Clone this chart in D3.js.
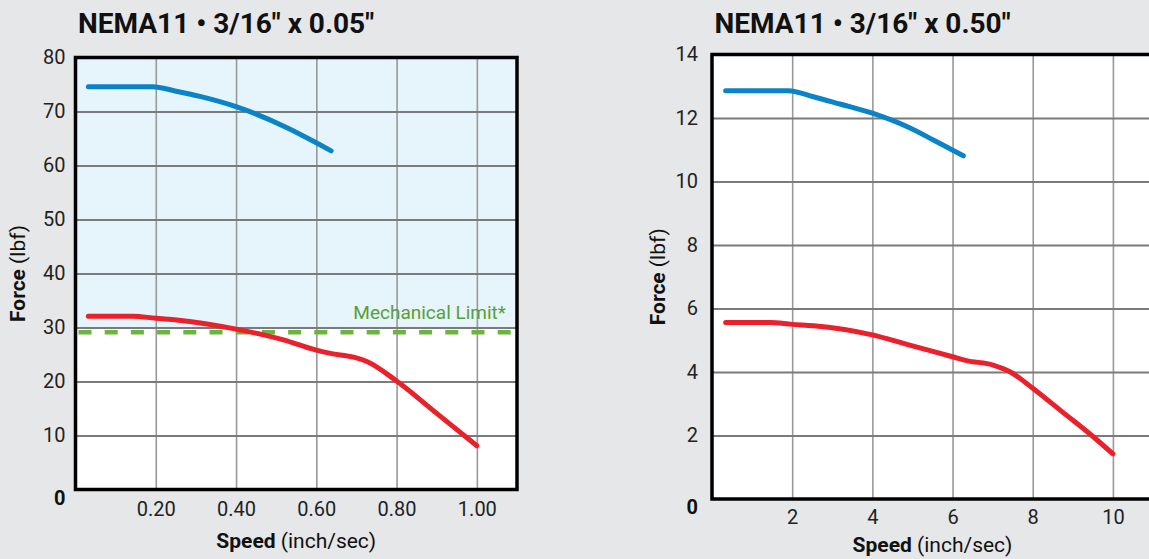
<!DOCTYPE html>
<html><head><meta charset="utf-8">
<script src="https://cdn.jsdelivr.net/npm/d3@7"></script>
<style>
html,body{margin:0;padding:0;background:#e6e7e8;}
svg{display:block;font-family:Roboto,"Noto Sans",sans-serif;}
</style></head>
<body>
<svg id="c" width="1149" height="559"></svg>
<script>
// ---------- DATA ----------
const leftTitle = 'NEMA11 \u2022 3/16" x 0.05"';
const rightTitle = 'NEMA11 \u2022 3/16" x 0.50"';
const xAxisLabelBold = "Speed";
const xAxisLabelUnit = " (inch/sec)";
const yAxisLabelBold = "Force";
const yAxisLabelUnit = " (lbf)";
const limitLabel = "Mechanical Limit*";

const leftXTicks = [0.2, 0.4, 0.6, 0.8, 1.0];
const leftYTicks = [10, 20, 30, 40, 50, 60, 70, 80];
const rightXTicks = [2, 4, 6, 8, 10];
const rightYTicks = [2, 4, 6, 8, 10, 12, 14];

const leftBlueSpeed = [0.032, 0.193, 0.248, 0.31, 0.40, 0.527, 0.60, 0.637];
const leftBlueForce = [74.6, 74.6, 73.8, 72.8, 70.9, 67.0, 64.2, 62.7];
const leftRedSpeed = [0.032, 0.144, 0.2, 0.252, 0.40, 0.518, 0.60, 0.635, 0.693, 0.726, 0.80, 0.90, 1.0];
const leftRedForce = [32.1, 32.1, 31.7, 31.4, 29.7, 27.7, 25.8, 25.2, 24.5, 23.7, 20.1, 14.1, 8.1];
const leftLimit = 29.1;
const leftShade = [30, 80];

const rightBlueSpeed = [0.34, 1.9, 2.53, 3.19, 4.0, 4.86, 5.52, 6.27];
const rightBlueForce = [12.86, 12.86, 12.67, 12.44, 12.15, 11.73, 11.31, 10.81];
const rightRedSpeed = [0.34, 1.45, 2.0, 2.53, 4.0, 4.86, 6.0, 6.35, 7.01, 7.43, 8.0, 8.76, 9.51, 10.0];
const rightRedForce = [5.56, 5.56, 5.50, 5.46, 5.17, 4.87, 4.48, 4.36, 4.22, 4.01, 3.49, 2.72, 1.96, 1.42];

// ---------- DRAW ----------
const svg = d3.select("#c");
svg.append("rect").attr("width", 1149).attr("height", 559).attr("fill", "#e6e7e8");

const BLUE = "#0a84c6", RED = "#e8212b", GREEN = "#6cb43f", GREENTXT = "#5a9f35";

function drawChart(o) {
  const x = d3.scaleLinear().domain(o.xDomain).range([o.left, o.right]);
  const y = d3.scaleLinear().domain(o.yDomain).range([o.bottom, o.top]);
  const g = svg.append("g");

  g.append("rect").attr("x", o.left).attr("y", o.top)
    .attr("width", o.right - o.left).attr("height", o.bottom - o.top).attr("fill", "#fff");
  if (o.shade) {
    g.append("rect").attr("x", o.left).attr("y", y(o.shade[1]))
      .attr("width", o.right - o.left).attr("height", y(o.shade[0]) - y(o.shade[1]))
      .attr("fill", "#e6f4fb");
  }
  // grid
  const gx = g.append("g").attr("transform", `translate(0,${o.bottom})`)
    .call(d3.axisBottom(x).tickValues(o.xTicks).tickSize(-(o.bottom - o.top)).tickFormat(""));
  gx.select(".domain").remove();
  gx.selectAll("line").attr("stroke", "#999").attr("stroke-width", 1.6);
  const gy = g.append("g").attr("transform", `translate(${o.left},0)`)
    .call(d3.axisLeft(y).tickValues(o.yTicks).tickSize(-(o.right - o.left)).tickFormat(""));
  gy.select(".domain").remove();
  gy.selectAll("line").attr("stroke", "#7b7b7b").attr("stroke-width", 1.8);

  if (o.limit != null) {
    g.append("line").attr("x1", o.left + 3).attr("x2", o.right)
      .attr("y1", y(o.limit)).attr("y2", y(o.limit))
      .attr("stroke", GREEN).attr("stroke-width", 4.5).attr("stroke-dasharray", "13,13.2");
    g.append("text").attr("x", o.right - 11).attr("y", y(o.limit) - 13)
      .attr("text-anchor", "end").attr("font-size", 19).attr("fill", GREENTXT).text(limitLabel);
  }

  const line = d3.line().x(d => x(d[0])).y(d => y(d[1])).curve(d3.curveMonotoneX);
  o.series.forEach(s => {
    g.append("path").datum(d3.zip(s.sx, s.sy)).attr("d", line)
      .attr("fill", "none").attr("stroke", s.color).attr("stroke-width", 5)
      .attr("stroke-linecap", "round").attr("stroke-linejoin", "round");
  });

  // border
  g.append("rect").attr("x", o.left).attr("y", o.top)
    .attr("width", o.right - o.left).attr("height", o.bottom - o.top)
    .attr("fill", "none").attr("stroke", "#000").attr("stroke-width", 3.5);

  // tick labels
  const ax = g.append("g").attr("transform", `translate(0,${o.bottom})`)
    .call(d3.axisBottom(x).tickValues(o.xTicks).tickSize(0).tickPadding(o.xPad).tickFormat(o.xFmt));
  ax.select(".domain").remove();
  ax.selectAll("text").attr("font-size", 20).attr("fill", "#222").attr("font-family", "Roboto");
  const ay = g.append("g").attr("transform", `translate(${o.left},0)`)
    .call(d3.axisLeft(y).tickValues(o.yTicks).tickSize(0).tickPadding(o.yPad).tickFormat(d3.format("d")));
  ay.select(".domain").remove();
  ay.selectAll("text").attr("font-size", 20).attr("fill", "#222").attr("font-family", "Roboto");

  g.append("text").attr("x", o.left - o.yPad).attr("y", o.bottom + 15)
    .attr("text-anchor", "end").attr("font-size", 20).attr("font-weight", "bold").attr("fill", "#111").text("0");

  // titles
  g.append("text").attr("x", o.left + 2.5).attr("y", 33).attr("font-size", 28)
    .attr("font-weight", "bold").attr("fill", "#111").text(o.title);
  const xt = g.append("text").attr("x", (o.left + o.right) / 2).attr("y", o.xTitleY)
    .attr("text-anchor", "middle").attr("font-size", 21).attr("fill", "#111");
  xt.append("tspan").attr("font-weight", "bold").text(xAxisLabelBold);
  xt.append("tspan").text(xAxisLabelUnit);
  const yt = g.append("text").attr("transform", `translate(${o.yTitleX},${(o.top + o.bottom) / 2}) rotate(-90)`)
    .attr("text-anchor", "middle").attr("font-size", 21).attr("fill", "#111");
  yt.append("tspan").attr("font-weight", "bold").text(yAxisLabelBold);
  yt.append("tspan").text(yAxisLabelUnit);
}

drawChart({
  left: 75.5, right: 517, top: 57.5, bottom: 489.5,
  xDomain: [0, 1.1], yDomain: [0, 80],
  xTicks: leftXTicks, yTicks: leftYTicks, xFmt: d3.format(".2f"),
  xPad: 12, yPad: 10, xTitleY: 548, yTitleX: 25,
  title: leftTitle, shade: leftShade, limit: leftLimit,
  series: [
    { sx: leftBlueSpeed, sy: leftBlueForce, color: BLUE },
    { sx: leftRedSpeed, sy: leftRedForce, color: RED }
  ]
});
drawChart({
  left: 712, right: 1153, top: 54.5, bottom: 499,
  xDomain: [0, 11], yDomain: [0, 14],
  xTicks: rightXTicks, yTicks: rightYTicks, xFmt: d3.format("d"),
  xPad: 11, yPad: 14, xTitleY: 552, yTitleX: 665,
  title: rightTitle, shade: null, limit: null,
  series: [
    { sx: rightBlueSpeed, sy: rightBlueForce, color: BLUE },
    { sx: rightRedSpeed, sy: rightRedForce, color: RED }
  ]
});
</script>
</body></html>
